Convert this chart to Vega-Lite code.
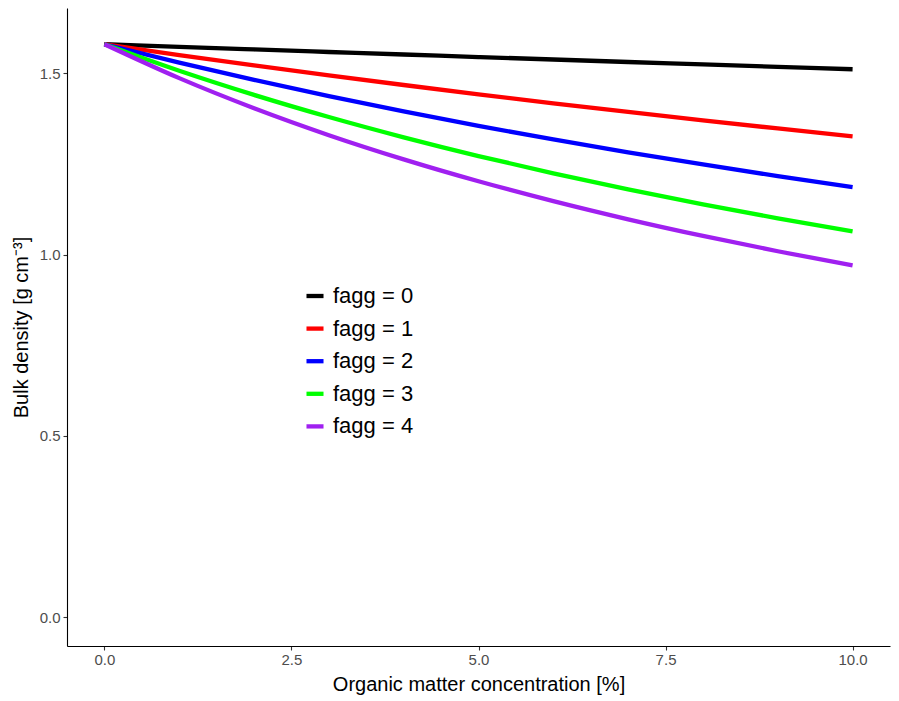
{
  "$schema": "https://vega.github.io/schema/vega-lite/v6.json",
  "autosize": {"type": "none"},
  "padding": {"left": 67, "top": 8, "right": 9, "bottom": 55},
  "width": 823,
  "height": 638,
  "background": "white",
  "config": {
    "view": {"stroke": null},
    "font": "Liberation Sans"
  },
  "data": {
    "values": [
      {"x": 0, "bd": 1.58, "f": "0"}, {"x": 1, "bd": 1.5728, "f": "0"}, {"x": 2, "bd": 1.5657, "f": "0"}, {"x": 3, "bd": 1.5586, "f": "0"}, {"x": 4, "bd": 1.5517, "f": "0"}, {"x": 5, "bd": 1.5447, "f": "0"}, {"x": 6, "bd": 1.5379, "f": "0"}, {"x": 7, "bd": 1.531, "f": "0"}, {"x": 8, "bd": 1.5243, "f": "0"}, {"x": 9, "bd": 1.5176, "f": "0"}, {"x": 10, "bd": 1.511, "f": "0"},
      {"x": 0, "bd": 1.58, "f": "1"}, {"x": 1, "bd": 1.5503, "f": "1"}, {"x": 2, "bd": 1.5217, "f": "1"}, {"x": 3, "bd": 1.4942, "f": "1"}, {"x": 4, "bd": 1.4676, "f": "1"}, {"x": 5, "bd": 1.4419, "f": "1"}, {"x": 6, "bd": 1.4172, "f": "1"}, {"x": 7, "bd": 1.3932, "f": "1"}, {"x": 8, "bd": 1.3701, "f": "1"}, {"x": 9, "bd": 1.3477, "f": "1"}, {"x": 10, "bd": 1.3261, "f": "1"},
      {"x": 0, "bd": 1.58, "f": "2"}, {"x": 1, "bd": 1.5292, "f": "2"}, {"x": 2, "bd": 1.4816, "f": "2"}, {"x": 3, "bd": 1.4368, "f": "2"}, {"x": 4, "bd": 1.3947, "f": "2"}, {"x": 5, "bd": 1.3549, "f": "2"}, {"x": 6, "bd": 1.3174, "f": "2"}, {"x": 7, "bd": 1.2819, "f": "2"}, {"x": 8, "bd": 1.2483, "f": "2"}, {"x": 9, "bd": 1.2163, "f": "2"}, {"x": 10, "bd": 1.186, "f": "2"},
      {"x": 0, "bd": 1.58, "f": "3"}, {"x": 1, "bd": 1.5069, "f": "3"}, {"x": 2, "bd": 1.4403, "f": "3"}, {"x": 3, "bd": 1.3793, "f": "3"}, {"x": 4, "bd": 1.3233, "f": "3"}, {"x": 5, "bd": 1.2716, "f": "3"}, {"x": 6, "bd": 1.2239, "f": "3"}, {"x": 7, "bd": 1.1796, "f": "3"}, {"x": 8, "bd": 1.1383, "f": "3"}, {"x": 9, "bd": 1.0999, "f": "3"}, {"x": 10, "bd": 1.064, "f": "3"},
      {"x": 0, "bd": 1.58, "f": "4"}, {"x": 1, "bd": 1.4865, "f": "4"}, {"x": 2, "bd": 1.4035, "f": "4"}, {"x": 3, "bd": 1.3292, "f": "4"}, {"x": 4, "bd": 1.2625, "f": "4"}, {"x": 5, "bd": 1.2021, "f": "4"}, {"x": 6, "bd": 1.1472, "f": "4"}, {"x": 7, "bd": 1.0971, "f": "4"}, {"x": 8, "bd": 1.0512, "f": "4"}, {"x": 9, "bd": 1.009, "f": "4"}, {"x": 10, "bd": 0.97, "f": "4"}
    ]
  },
  "mark": {"type": "line", "strokeWidth": 4.3, "interpolate": "monotone"},
  "encoding": {
    "x": {
      "field": "x", "type": "quantitative",
      "scale": {"domain": [-0.5, 10.5], "nice": false, "zero": false},
      "axis": {
        "title": "Organic matter concentration [%]",
        "values": [0, 2.5, 5, 7.5, 10], "format": ".1f",
        "grid": false, "domainColor": "black", "domainWidth": 1.1,
        "tickColor": "#333333", "tickSize": 4, "tickWidth": 1.1,
        "labelColor": "#4d4d4d", "labelFontSize": 15, "labelPadding": 2,
        "titleFontSize": 20, "titleFontWeight": "normal", "titleColor": "black", "titlePadding": 7
      }
    },
    "y": {
      "field": "bd", "type": "quantitative",
      "scale": {"domain": [-0.08, 1.68], "nice": false, "zero": false},
      "axis": {
        "title": "Bulk density [g cm⁻³]",
        "values": [0, 0.5, 1, 1.5], "format": ".1f",
        "grid": false, "domainColor": "black", "domainWidth": 1.1,
        "tickColor": "#333333", "tickSize": 4, "tickWidth": 1.1,
        "labelColor": "#4d4d4d", "labelFontSize": 15, "labelPadding": 3,
        "titleFontSize": 20, "titleFontWeight": "normal", "titleColor": "black", "titlePadding": 8
      }
    },
    "color": {
      "field": "f", "type": "nominal",
      "scale": {"domain": ["0", "1", "2", "3", "4"], "range": ["black", "#FF0000", "#0000FF", "#00FF00", "#A020F0"]},
      "legend": {
        "title": null,
        "orient": "none", "legendX": 237, "legendY": 277,
        "labelExpr": "'fagg = ' + datum.label",
        "symbolType": "stroke", "symbolSize": 290, "symbolStrokeWidth": 4.3,
        "labelFontSize": 22, "labelColor": "black", "labelOffset": 7,
        "rowPadding": 10.6, "padding": 0
      }
    }
  }
}
